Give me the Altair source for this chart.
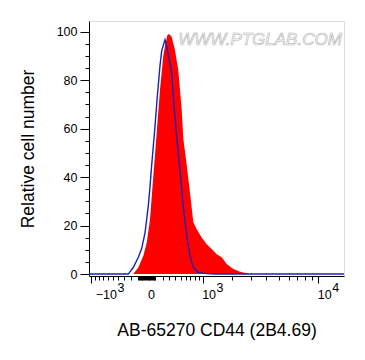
import altair as alt
import pandas as pd

# ---- data (x in fluorescence units, y = relative cell number) ----
red_x = [-168, -101, -40, 0, 37, 76, 119, 164, 210, 235, 270, 297, 340, 396, 456, 520,
         551, 621, 692, 767, 849, 977, 1116, 1266, 1429, 1605, 1796, 2072, 2384, 2916]
red_y = [0, 2.7, 7.5, 13, 22.6, 40, 58, 76, 90, 94, 98.5, 99, 97.9, 92.4, 84, 68,
         56, 45, 33.6, 21.5, 18.5, 15.1, 12.3, 10.3, 8.2, 6.9, 4.1, 2.1, 1, 0]

blue_x = [-1055, -240, -168, -101, -59, -20, 17, 37, 57, 98, 127, 164, 187, 235, 276, 301,
          340, 367, 396, 437, 487, 551, 621, 692, 767, 888, 1116, 1372, 15440]
blue_y = [0, 0, 2.7, 6.9, 10.5, 17, 28, 36, 45, 61, 73, 86, 92, 96.7, 92, 88.5,
          83, 73.5, 65, 54, 43, 28, 16, 7.5, 2.7, 0.7, 0.2, 0, 0]

y_tick_values = list(range(0, 101, 5))
x_tick_values = ([-1000] + list(range(-900, -99, 100)) + list(range(-90, 0, 10)) + [0]
                 + list(range(10, 100, 10)) + list(range(100, 1000, 100)) + [1000]
                 + list(range(2000, 10000, 1000)) + [10000])
x_label_values = [-1000, 0, 1000, 10000]
x_label_base = ["\u221210", "0", "10", "10"]
x_label_exp = ["3", "", "3", "4"]

red = pd.DataFrame({"x": red_x, "y": red_y})
blue = pd.DataFrame({"x": blue_x, "y": blue_y})
labels = pd.DataFrame({"x": x_label_values, "base": x_label_base, "exp": x_label_exp})

FONT = "Liberation Sans"

xscale = alt.Scale(type="symlog", constant=700, domain=[-1055, 15440], nice=False)
yscale = alt.Scale(domain=[-0.8, 104.4], nice=False, zero=False)

x_axis = alt.Axis(
    values=x_tick_values, labels=False, grid=False,
    tickSize={"condition": {"test": "datum.value == -1000 || datum.value == 1000 || datum.value == 10000", "value": 7}, "value": 4},
    tickColor="black", domainColor="black",
    title="AB-65270 CD44 (2B4.69)", titleFont=FONT, titleFontSize=17.5,
    titleFontWeight="normal", titleColor="black", titlePadding=38,
)
y_axis = alt.Axis(
    values=y_tick_values, grid=False,
    tickSize={"condition": {"test": "datum.value % 20 == 0", "value": 9}, "value": 4},
    labelExpr="datum.value % 20 == 0 ? datum.label : ''",
    labelFont=FONT, labelFontSize=12.5, labelColor="black", labelPadding=3,
    tickColor="black", domainColor="black",
    title="Relative cell number", titleFont=FONT, titleFontSize=17.5,
    titleFontWeight="normal", titleColor="black", titlePadding=19,
)

X = alt.X("x:Q", scale=xscale, axis=x_axis)
Y = alt.Y("y:Q", scale=yscale, axis=y_axis)

red_area = alt.Chart(red).mark_area(color="#ff0000", opacity=1).encode(x=X, y=Y)
blue_line = alt.Chart(blue).mark_line(color="#2020b0", strokeWidth=1.4).encode(x=X, y=Y)

base_y = 277.5
exp_y = 271.3
lab_style = dict(font=FONT, fontSize=12.5, color="black", baseline="alphabetic")

neg_base = alt.Chart(labels).transform_filter("datum.x < 0").mark_text(align="right", dx=26, **lab_style).encode(
    x=X, y=alt.value(base_y), text="base:N")
neg_exp = alt.Chart(labels).transform_filter("datum.x < 0").mark_text(align="left", dx=26.5, **lab_style).encode(
    x=X, y=alt.value(exp_y), text="exp:N")
zero_lab = alt.Chart(labels).transform_filter("datum.x == 0").mark_text(align="center", dx=4.7, **lab_style).encode(
    x=X, y=alt.value(base_y), text="base:N")
pos_base = alt.Chart(labels).transform_filter("datum.x > 0").mark_text(align="right", dx=13.5, **lab_style).encode(
    x=X, y=alt.value(base_y), text="base:N")
pos_exp = alt.Chart(labels).transform_filter("datum.x > 0").mark_text(align="left", dx=14, **lab_style).encode(
    x=X, y=alt.value(exp_y), text="exp:N")

watermark = alt.Chart(pd.DataFrame({"t": ["WWW.PTGLAB.COM"]})).mark_text(
    font=FONT, fontSize=17, fontStyle="italic", align="center", baseline="alphabetic",
    fill="#ffffff", stroke="#b0b0b0", strokeWidth=0.6,
).encode(x=alt.value(171), y=alt.value(24), text="t:N")

chart = alt.layer(
    red_area, blue_line, neg_base, neg_exp, zero_lab, pos_base, pos_exp, watermark
).properties(
    width=255, height=255,
    autosize=alt.AutoSizeParams(type="none"),
    padding={"left": 81, "top": 13, "right": 13, "bottom": 80},
).configure_view(
    stroke="black", strokeWidth=1
).configure(font=FONT, background="white")

chart.save("out.html", embed_options={"renderer": "svg", "actions": False})
